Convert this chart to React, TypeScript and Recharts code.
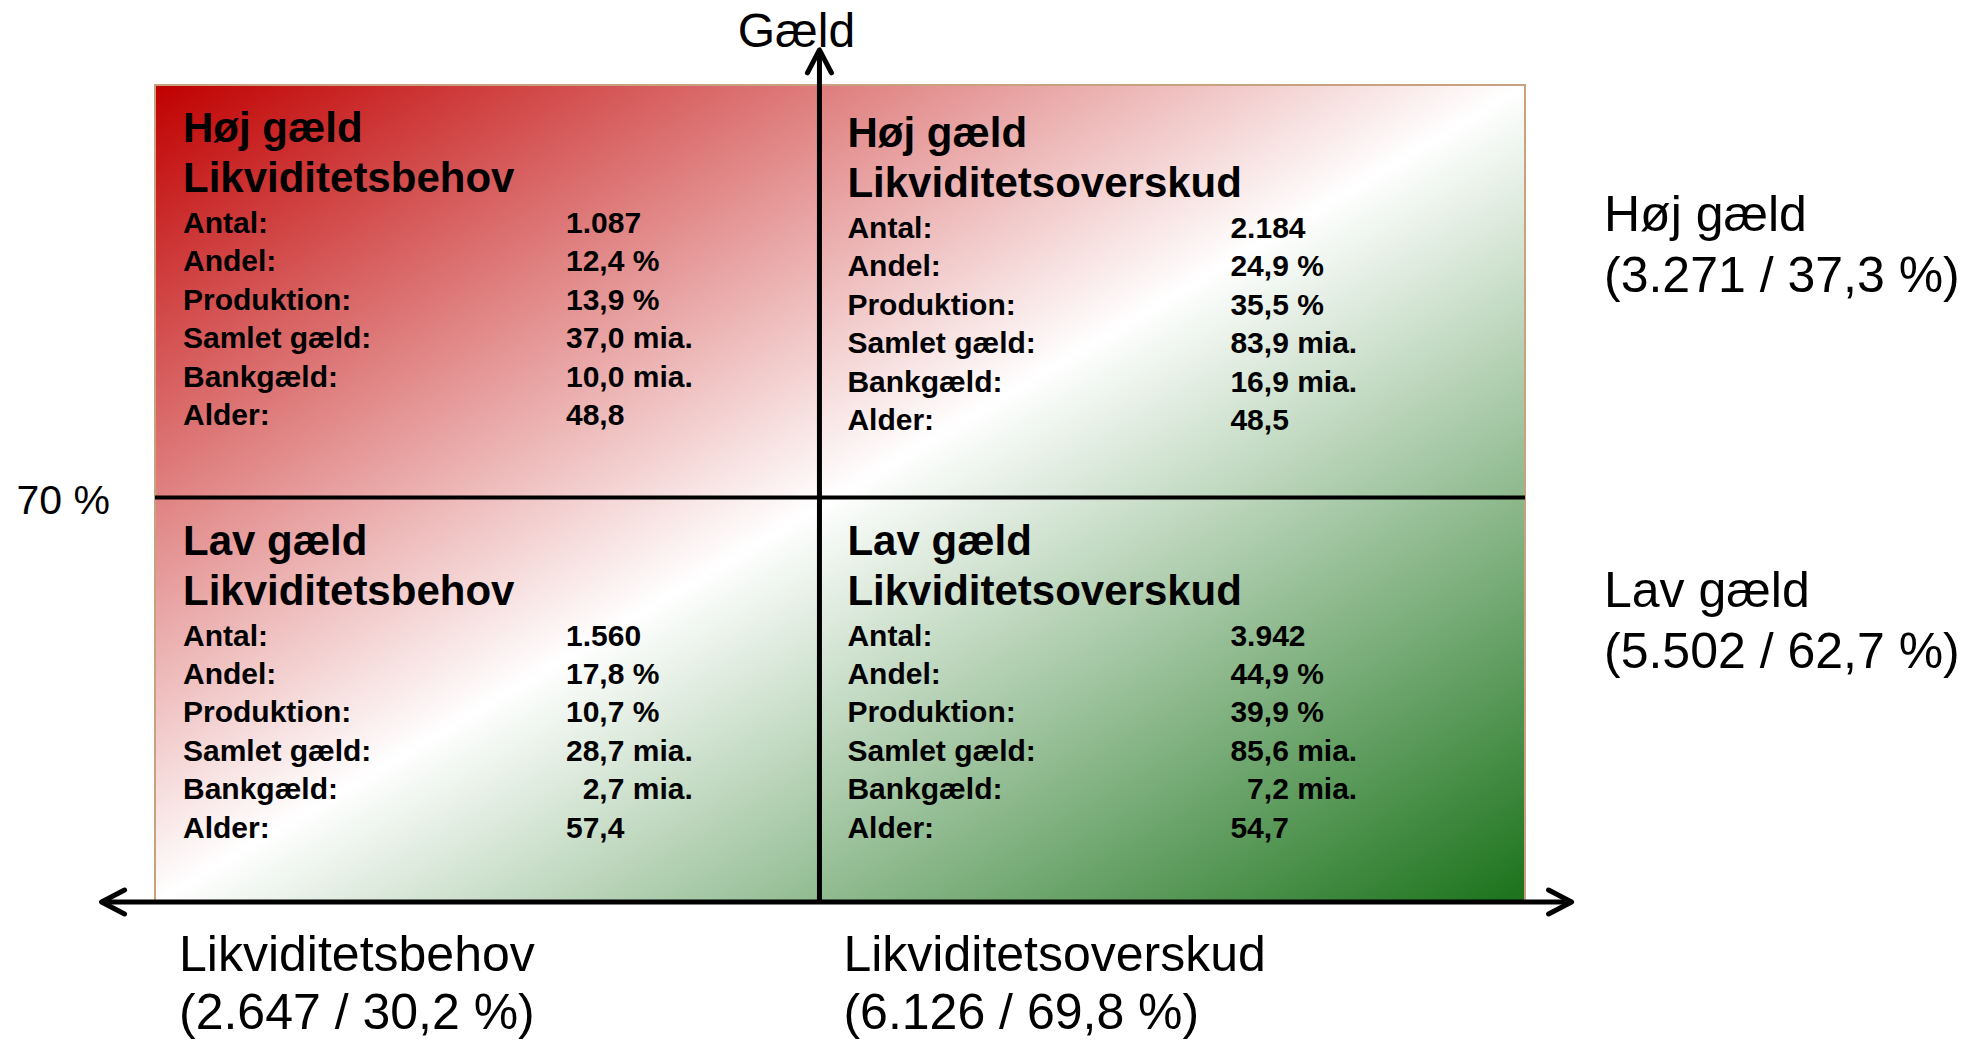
import React from "react";
import {
  ScatterChart,
  Scatter,
  XAxis,
  YAxis,
  ReferenceArea,
  ReferenceLine,
} from "recharts";

const FONT = '"Liberation Sans", Arial, Helvetica, sans-serif';

// grid in data units: both axes run 0-100 over the coloured box
const X_SPLIT = 48.5;
const Y_SPLIT = 49.5;
const Y_ARROW_TOP = 104.3;
const X_ARROW_LEFT = -3.9;
const X_ARROW_RIGHT = 103.4;
const GAELD_GRAENSE = 70;

const likvGrupper = ["Likviditetsbehov", "Likviditetsoverskud"];
const likvAntal = [2647, 6126];
const likvAndel = [30.2, 69.8];

const gaeldGrupper = ["Høj gæld", "Lav gæld"];
const gaeldAntal = [3271, 5502];
const gaeldAndel = [37.3, 62.7];
const gaeldLabelPos = [80, 34];

const raekker = ["Antal:", "Andel:", "Produktion:", "Samlet gæld:", "Bankgæld:", "Alder:"];

// quadrant order: høj/behov, høj/overskud, lav/behov, lav/overskud
const antal = [1087, 2184, 1560, 3942];
const andel = [12.4, 24.9, 17.8, 44.9];
const produktion = [13.9, 35.5, 10.7, 39.9];
const samletGaeld = [37.0, 83.9, 28.7, 85.6];
const bankGaeld = [10.0, 16.9, 2.7, 7.2];
const alder = [48.8, 48.5, 57.4, 54.7];

const fmtInt = (n: number) => String(n).replace(/\B(?=(\d{3})+(?!\d))/g, ".");
const fmtDec = (n: number) => n.toFixed(1).replace(".", ",");

const quadrants = antal.map((_, i) => ({
  x: i % 2 === 0 ? 0 : X_SPLIT,
  y: i < 2 ? 100 : Y_SPLIT,
  idx: i,
  title: [gaeldGrupper[i < 2 ? 0 : 1], likvGrupper[i % 2]],
  values: [
    fmtInt(antal[i]),
    `${fmtDec(andel[i])} %`,
    `${fmtDec(produktion[i])} %`,
    `${fmtDec(samletGaeld[i])} mia.`,
    `${bankGaeld[i] < 10 ? "\u00a0\u00a0" : ""}${fmtDec(bankGaeld[i])} mia.`,
    fmtDec(alder[i]),
  ],
}));

const gaeldLabels = gaeldGrupper.map((name, i) => ({
  x: 100,
  y: gaeldLabelPos[i],
  name,
  text: `(${fmtInt(gaeldAntal[i])} / ${fmtDec(gaeldAndel[i])} %)`,
}));

const QuadrantText = (props: any) => {
  const { cx, cy, payload } = props;
  const x = cx + 28;
  const y0 = cy + (payload.idx === 1 ? 62 : 57);
  return (
    <g fontFamily={FONT} fontWeight="bold" fill="#000">
      <text x={x} y={y0} fontSize={42}>{payload.title[0]}</text>
      <text x={x} y={y0 + 50} fontSize={42}>{payload.title[1]}</text>
      {raekker.map((r, i) => (
        <g key={r}>
          <text x={x} y={y0 + 91 + i * 38.4} fontSize={30}>{r}</text>
          <text x={x + 383} y={y0 + 91 + i * 38.4} fontSize={30}>
            {payload.values[i]}
          </text>
        </g>
      ))}
    </g>
  );
};

const GaeldLabel = (props: any) => {
  const { cx, cy, payload } = props;
  const x = cx + 79;
  return (
    <text x={x} y={cy} fontFamily={FONT} fontSize={50} fill="#000">
      <tspan x={x} dy={-17}>{payload.name}</tspan>
      <tspan x={x} dy={61}>{payload.text}</tspan>
    </text>
  );
};

const head = (tx: number, ty: number, fx: number, fy: number) => {
  const len = Math.hypot(tx - fx, ty - fy);
  const ux = (tx - fx) / len;
  const uy = (ty - fy) / len;
  const bx = tx - ux * 23;
  const by = ty - uy * 23;
  return (
    <polyline
      points={`${bx - uy * 12},${by + ux * 12} ${tx},${ty} ${bx + uy * 12},${by - ux * 12}`}
      fill="none"
      stroke="#000"
      strokeWidth={5}
      strokeLinecap="round"
      strokeLinejoin="round"
    />
  );
};

const VerticalArrow = (props: any) => {
  const { x1, y1, x2, y2 } = props;
  const top = y1 < y2 ? { x: x1, y: y1 } : { x: x2, y: y2 };
  const bot = y1 < y2 ? { x: x2, y: y2 } : { x: x1, y: y1 };
  return (
    <g>
      <line x1={bot.x} y1={bot.y} x2={top.x} y2={top.y} stroke="#000" strokeWidth={5} />
      {head(top.x, top.y, bot.x, bot.y)}
      <text x={top.x - 23} y={top.y - 3} textAnchor="middle" fontFamily={FONT} fontSize={48} fill="#000">
        Gæld
      </text>
    </g>
  );
};

const HorizontalArrow = (props: any) => {
  const { x1, y1, x2, y2 } = props;
  return (
    <g>
      <line x1={x1} y1={y1} x2={x2} y2={y2} stroke="#000" strokeWidth={5} />
      {head(x1, y1, x2, y2)}
      {head(x2, y2, x1, y1)}
    </g>
  );
};

const LikvTick = (props: any) => {
  const { x, y, payload } = props;
  const i = [0, X_SPLIT].indexOf(payload.value);
  if (i < 0) return null;
  return (
    <text x={x + 24} y={y} fontFamily={FONT} fontSize={50} fill="#000">
      <tspan x={x + 24} dy={69}>{likvGrupper[i]}</tspan>
      <tspan x={x + 24} dy={58}>{`(${fmtInt(likvAntal[i])} / ${fmtDec(likvAndel[i])} %)`}</tspan>
    </text>
  );
};

const GraenseTick = (props: any) => {
  const { x, y } = props;
  return (
    <text x={x} y={y + 16} textAnchor="end" fontFamily={FONT} fontSize={41} fill="#000">
      {`${GAELD_GRAENSE} %`}
    </text>
  );
};

export default function App() {
  return (
    <div style={{ position: "absolute", left: 0, top: 0, background: "#fff" }}>
      <ScatterChart
        width={1988}
        height={1041}
        margin={{ top: 85, right: 463, bottom: 0, left: 0 }}
      >
        <defs>
          <linearGradient id="bg" x1="0" y1="0" x2="1" y2="1">
            <stop offset="0%" stopColor="#c00000" />
            <stop offset="50%" stopColor="#ffffff" />
            <stop offset="100%" stopColor="#1a721a" />
          </linearGradient>
        </defs>
        <XAxis
          type="number"
          dataKey="x"
          domain={[0, 100]}
          ticks={[0, X_SPLIT]}
          interval={0}
          height={139}
          axisLine={false}
          tickLine={false}
          tickSize={0}
          tickMargin={0}
          tick={<LikvTick />}
        />
        <YAxis
          type="number"
          dataKey="y"
          domain={[0, 100]}
          ticks={[Y_SPLIT]}
          interval={0}
          width={155}
          axisLine={false}
          tickLine={false}
          tickSize={0}
          tickMargin={45}
          tick={<GraenseTick />}
        />
        <ReferenceArea
          x1={0}
          x2={100}
          y1={0}
          y2={100}
          fill="url(#bg)"
          fillOpacity={1}
          stroke="#c8a27e"
          strokeWidth={2}
        />
        <ReferenceLine y={Y_SPLIT} stroke="#000" strokeWidth={4} />
        <ReferenceLine
          segment={[
            { x: X_SPLIT, y: 0 },
            { x: X_SPLIT, y: Y_ARROW_TOP },
          ]}
          ifOverflow="visible"
          shape={VerticalArrow}
        />
        <ReferenceLine
          segment={[
            { x: X_ARROW_LEFT, y: 0 },
            { x: X_ARROW_RIGHT, y: 0 },
          ]}
          ifOverflow="visible"
          shape={HorizontalArrow}
        />
        <Scatter data={quadrants} isAnimationActive={false} shape={QuadrantText} />
        <Scatter data={gaeldLabels} isAnimationActive={false} shape={GaeldLabel} />
      </ScatterChart>
    </div>
  );
}
